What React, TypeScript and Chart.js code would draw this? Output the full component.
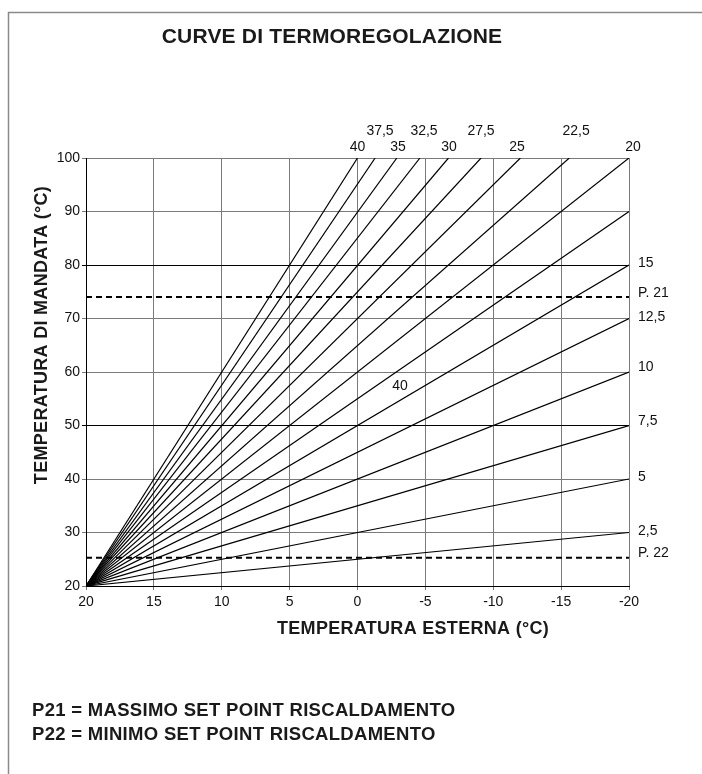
import React, { useEffect, useRef } from "react";
import { Chart, registerables } from "chart.js";

Chart.register(...registerables);

const FONT = '"Liberation Sans", Arial, Helvetica, sans-serif';

// Curve names (slope of each heating curve)
const curveNames = ["2,5", "5", "7,5", "10", "12,5", "15", "17,5", "20", "22,5", "25", "27,5", "30", "32,5", "35", "37,5", "40"];
// All curves start from (20 °C outside, 20 °C flow)
const originX = 20;
const originY = 20;
// End points of each curve (outside temperature, flow temperature)
const curveEndX = [-20, -20, -20, -20, -20, -20, -20, -20, -15.6, -12, -9.1, -6.7, -4.6, -2.9, -1.3, 0];
const curveEndY = [30, 40, 50, 60, 70, 80, 90, 100, 100, 100, 100, 100, 100, 100, 100, 100];

// Set point parameters
const p21Value = 74;
const p22Value = 25.3;

// Axis ranges
const xMin = -20;
const xMax = 20;
const xStep = 5;
const yMin = 20;
const yMax = 100;
const yStep = 10;

// Labels written on the chart (data coordinates)
const annotTexts = ["40", "37,5", "35", "32,5", "30", "27,5", "25", "22,5", "20", "15", "P. 21", "12,5", "10", "7,5", "5", "2,5", "P. 22", "40"];
const annotX = [0, -1.66, -2.98, -4.9, -6.74, -9.1, -11.75, -16.1, -20.3, -20.66, -20.66, -20.66, -20.66, -20.66, -20.66, -20.66, -20.66, -3.13];
const annotY = [102.1, 105.0, 102.1, 105.0, 102.1, 105.0, 102.1, 105.0, 102.1, 80.4, 74.8, 70.3, 60.9, 50.8, 40.4, 30.3, 26.2, 57.4];
const annotAlign = ["center", "center", "center", "center", "center", "center", "center", "center", "center", "left", "left", "left", "left", "left", "left", "left", "left", "center"];

const titleText = "CURVE DI TERMOREGOLAZIONE";
const yTitle = "TEMPERATURA DI MANDATA (°C)";
const xTitle = "TEMPERATURA ESTERNA (°C)";
const footerLines = ["P21 = MASSIMO SET POINT RISCALDAMENTO", "P22 = MINIMO SET POINT RISCALDAMENTO"];

const decorPlugin = {
  id: "decor",
  afterDraw(chart: any) {
    const ctx = chart.ctx as CanvasRenderingContext2D;
    const xs = chart.scales.x;
    const ys = chart.scales.y;
    ctx.save();
    // frame
    ctx.strokeStyle = "#8a8a8a";
    ctx.lineWidth = 1.5;
    ctx.beginPath();
    ctx.moveTo(8.5, 774);
    ctx.lineTo(8.5, 12.5);
    ctx.lineTo(702, 12.5);
    ctx.stroke();

    ctx.fillStyle = "#1a1a1a";
    // title
    ctx.font = `bold 21px ${FONT}`;
    (ctx as any).letterSpacing = "0.2px";
    ctx.textAlign = "center";
    ctx.textBaseline = "alphabetic";
    ctx.fillText(titleText, 332, 43);

    // axis titles
    ctx.font = `bold 18px ${FONT}`;
    (ctx as any).letterSpacing = "0.3px";
    ctx.textAlign = "left";
    ctx.fillText(xTitle, 277, 634);
    ctx.save();
    ctx.translate(46.5, 335);
    ctx.rotate(-Math.PI / 2);
    ctx.textAlign = "center";
    ctx.fillText(yTitle, 0, 0);
    ctx.restore();

    // footer
    ctx.font = `bold 18.5px ${FONT}`;
    (ctx as any).letterSpacing = "0.3px";
    ctx.textAlign = "left";
    ctx.fillText(footerLines[0], 32, 716);
    ctx.fillText(footerLines[1], 32, 740);

    // curve labels
    (ctx as any).letterSpacing = "0px";
    ctx.font = `14px ${FONT}`;
    ctx.fillStyle = "#111";
    ctx.textBaseline = "middle";
    for (let i = 0; i < annotTexts.length; i++) {
      ctx.textAlign = annotAlign[i] as CanvasTextAlign;
      ctx.fillText(annotTexts[i], xs.getPixelForValue(annotX[i]), ys.getPixelForValue(annotY[i]));
    }
    ctx.restore();
  },
};

export default function App() {
  const ref = useRef<HTMLCanvasElement>(null);
  useEffect(() => {
    const datasets: any[] = curveNames.map((name, i) => ({
      label: name,
      data: [
        { x: originX, y: originY },
        { x: curveEndX[i], y: curveEndY[i] },
      ],
      showLine: true,
      borderColor: "#000",
      borderWidth: 1.2,
      pointRadius: 0,
      fill: false,
    }));
    datasets.push({
      label: "P. 21",
      data: [
        { x: xMax, y: p21Value },
        { x: xMin, y: p21Value },
      ],
      showLine: true,
      borderColor: "#000",
      borderWidth: 2,
      borderDash: [6, 4],
      pointRadius: 0,
    });
    datasets.push({
      label: "P. 22",
      data: [
        { x: xMax, y: p22Value },
        { x: xMin, y: p22Value },
      ],
      showLine: true,
      borderColor: "#000",
      borderWidth: 2,
      borderDash: [6, 4],
      pointRadius: 0,
    });

    const chart = new Chart(ref.current!, {
      type: "scatter",
      data: { datasets },
      options: {
        animation: false,
        responsive: false,
        maintainAspectRatio: false,
        layout: { padding: { left: 0, top: 158, right: 73, bottom: 128 } },
        plugins: { legend: { display: false }, tooltip: { enabled: false }, title: { display: false } },
        scales: {
          x: {
            type: "linear",
            reverse: true,
            min: xMin,
            max: xMax,
            ticks: { stepSize: xStep, color: "#111", font: { family: FONT, size: 14 }, padding: 4, maxRotation: 0 },
            grid: { color: "#7a7a7a", lineWidth: 1, tickLength: 4 },
            border: { color: "#000", width: 1 },
            afterFit: (s: any) => {
              s.height = 60;
            },
          },
          y: {
            type: "linear",
            min: yMin,
            max: yMax,
            ticks: { stepSize: yStep, color: "#111", font: { family: FONT, size: 14 }, padding: 2 },
            grid: {
              color: (c: any) => (c.tick && (c.tick.value === 80 || c.tick.value === 50) ? "#000" : "#7a7a7a"),
              lineWidth: 1,
              tickLength: 4,
            },
            border: { color: "#000", width: 1 },
            afterFit: (s: any) => {
              s.width = 86;
            },
          },
        },
      },
      plugins: [decorPlugin],
    });
    return () => chart.destroy();
  }, []);
  return (
    <div style={{ position: "absolute", left: 0, top: 0, width: 702, height: 774, background: "#fff" }}>
      <canvas ref={ref} width={702} height={774} style={{ display: "block", width: 702, height: 774 }} />
    </div>
  );
}
